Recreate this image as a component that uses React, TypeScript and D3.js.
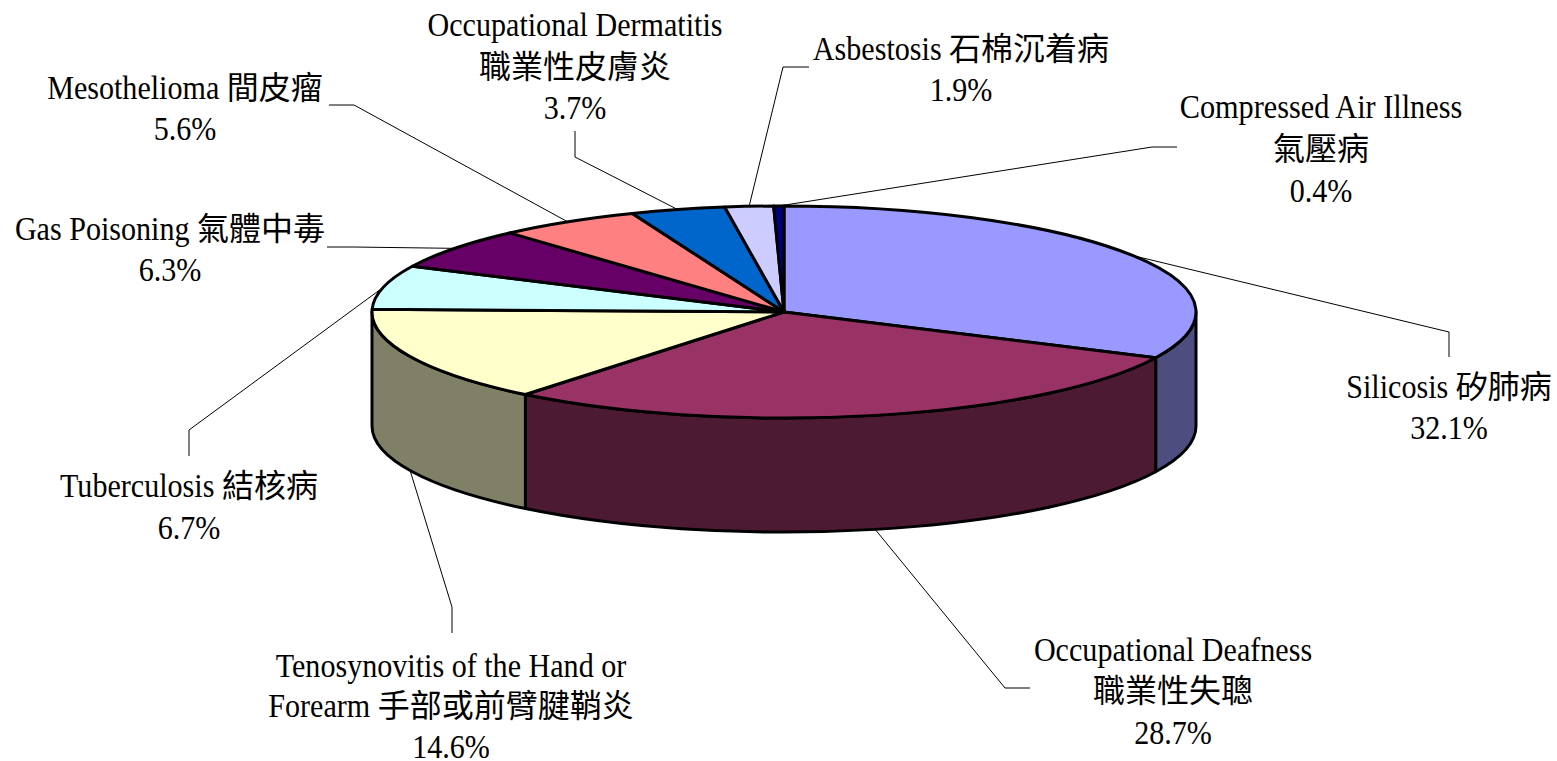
import React from "react";
import * as d3 from "d3";

const diseaseNames: string[][] = [
  ["Silicosis 矽肺病"],
  ["Occupational Deafness", "職業性失聰"],
  ["Tenosynovitis of the Hand or", "Forearm 手部或前臂腱鞘炎"],
  ["Tuberculosis 結核病"],
  ["Gas Poisoning 氣體中毒"],
  ["Mesothelioma 間皮瘤"],
  ["Occupational Dermatitis", "職業性皮膚炎"],
  ["Asbestosis 石棉沉着病"],
  ["Compressed Air Illness", "氣壓病"],
];
const shares = [32.1, 28.7, 14.6, 6.7, 6.3, 5.6, 3.7, 1.9, 0.4];
const sliceColors = ["#9999FF", "#993366", "#FFFFCC", "#CCFFFF", "#660066", "#FF8080", "#0066CC", "#CCCCFF", "#000080"];

// layout only
const cx = 784, cy = 312, rx = 412, ry = 106, depth = 114;
const labelCenterX = [1449, 1173, 451, 189, 170, 185, 575, 961, 1321];
const labelBaselines = [
  [398, 439],
  [661, 702, 744],
  [677, 717, 758],
  [497, 539],
  [240, 281],
  [99, 140],
  [36, 78, 119],
  [60, 101],
  [118, 160, 202],
];
const leaderElbows: number[][][] = [
  [[1449, 332], [1449, 357]],
  [[1005, 688], [1030, 688]],
  [[452, 607], [452, 633]],
  [[189, 430], [189, 456]],
  [[353, 247], [327, 247]],
  [[354, 105], [329, 105]],
  [[575, 157], [575, 131]],
  [[783, 67], [809, 67]],
  [[1152, 147], [1177, 147]],
];
const latinSize = 34, latinSqueeze = 0.885, cjkSize = 32;

const px = (a: number) => cx + rx * Math.sin(a);
const py = (a: number) => cy - ry * Math.cos(a);
const fmt = (n: number) => n.toFixed(2);

const topPath = (a0: number, a1: number) =>
  `M${cx},${cy}L${fmt(px(a0))},${fmt(py(a0))}A${rx},${ry} 0 ${a1 - a0 > Math.PI ? 1 : 0} 1 ${fmt(px(a1))},${fmt(py(a1))}Z`;

const wallPath = (a0: number, a1: number) =>
  `M${fmt(px(a0))},${fmt(py(a0))}A${rx},${ry} 0 0 1 ${fmt(px(a1))},${fmt(py(a1))}` +
  `L${fmt(px(a1))},${fmt(py(a1) + depth)}A${rx},${ry} 0 0 0 ${fmt(px(a0))},${fmt(py(a0) + depth)}Z`;

const halfTone = (c: string) => {
  const r = d3.rgb(c);
  return d3.rgb(r.r / 2, r.g / 2, r.b / 2).formatHex();
};

const measureCtx = document.createElement("canvas").getContext("2d")!;
const latinWidth = (s: string) => {
  measureCtx.font = `${latinSize}px 'Liberation Serif'`;
  return measureCtx.measureText(s).width * latinSqueeze;
};

// Latin runs are tall and narrow in the reference, CJK runs are not.
const runsOf = (line: string) => line.match(/[\u3000-\u9fff]+|[^\u3000-\u9fff]+/g) ?? [];

function Line({ x, y, text }: { x: number; y: number; text: string }) {
  return (
    <text x={x} y={y} xmlSpace="preserve" style={{ whiteSpace: "pre" }}>
      {runsOf(text).map((r, k) =>
        /[\u3000-\u9fff]/.test(r) ? (
          <tspan key={k} fontSize={cjkSize} fontFamily="'Noto Sans CJK TC'">{r}</tspan>
        ) : (
          <tspan key={k} fontSize={latinSize} textLength={latinWidth(r)} lengthAdjust="spacingAndGlyphs">{r}</tspan>
        )
      )}
    </text>
  );
}

export default function App() {
  const arcs = d3.pie<number>().sort(null).startAngle(0).endAngle(2 * Math.PI)(shares);
  const leaderLine = d3.line();
  const lo = Math.PI / 2, hi = (3 * Math.PI) / 2;
  return (
    <svg
      width={1557}
      height={761}
      viewBox="0 0 1557 761"
      style={{ position: "absolute", left: 0, top: 0, background: "#fff" }}
      fontFamily="'Liberation Serif','Noto Sans CJK TC',serif"
    >
      <g fill="none" stroke="#000" strokeWidth={1}>
        {arcs.map((d, i) => {
          const mid = (d.startAngle + d.endAngle) / 2;
          const front = Math.cos(mid) < 0;
          const start: [number, number] = [px(mid), py(mid) + (front ? depth : 0)];
          const pts = [start, ...(leaderElbows[i] as [number, number][])];
          return <path key={i} d={leaderLine(pts) ?? ""} />;
        })}
      </g>
      <g stroke="#000" strokeWidth={3} strokeLinejoin="round">
        {arcs.map((d, i) => {
          const a0 = Math.max(d.startAngle, lo), a1 = Math.min(d.endAngle, hi);
          if (a1 <= a0) return null;
          return <path key={i} d={wallPath(a0, a1)} fill={halfTone(sliceColors[i])} />;
        })}
        {arcs.map((d, i) => (
          <path key={i} d={topPath(d.startAngle, d.endAngle)} fill={sliceColors[i]} />
        ))}
      </g>
      <g textAnchor="middle" fill="#000">
        {diseaseNames.map((lines, i) =>
          [...lines, `${shares[i].toFixed(1)}%`].map((t, j) => (
            <Line key={`${i}-${j}`} x={labelCenterX[i]} y={labelBaselines[i][j]} text={t} />
          ))
        )}
      </g>
    </svg>
  );
}
